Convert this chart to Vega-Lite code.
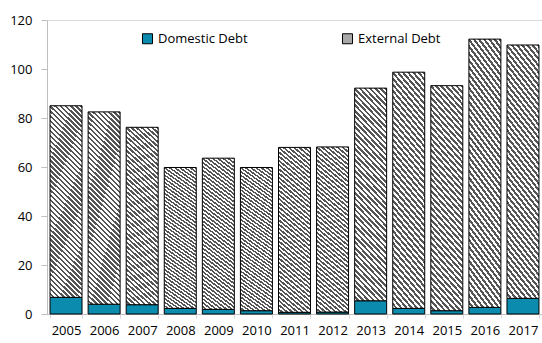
{
  "$schema": "https://vega.github.io/schema/vega-lite/v6.json",
  "autosize": {"type": "none"},
  "padding": {"left": 47, "top": 20, "right": 0, "bottom": 29},
  "width": 495,
  "height": 294,
  "background": "white",
  "title": {
    "text": "(In percent of GDP)",
    "anchor": "start",
    "dx": -29,
    "dy": -15,
    "baseline": "alphabetic",
    "font": "Open Sans",
    "fontSize": 13,
    "fontWeight": "normal",
    "color": "#2AA3DC"
  },
  "config": {
    "view": {"stroke": "#d9d9d9", "strokeWidth": 1},
    "font": "Open Sans"
  },
  "data": {
    "values": [
      {"year": "2005", "series": "Domestic Debt", "value": 6.8},
      {"year": "2005", "series": "External Debt", "value": 78.2},
      {"year": "2006", "series": "Domestic Debt", "value": 4.0},
      {"year": "2006", "series": "External Debt", "value": 78.5},
      {"year": "2007", "series": "Domestic Debt", "value": 3.8},
      {"year": "2007", "series": "External Debt", "value": 72.4},
      {"year": "2008", "series": "Domestic Debt", "value": 2.3},
      {"year": "2008", "series": "External Debt", "value": 57.5},
      {"year": "2009", "series": "Domestic Debt", "value": 1.9},
      {"year": "2009", "series": "External Debt", "value": 61.7},
      {"year": "2010", "series": "Domestic Debt", "value": 1.35},
      {"year": "2010", "series": "External Debt", "value": 58.45},
      {"year": "2011", "series": "Domestic Debt", "value": 0.7},
      {"year": "2011", "series": "External Debt", "value": 67.3},
      {"year": "2012", "series": "Domestic Debt", "value": 0.8},
      {"year": "2012", "series": "External Debt", "value": 67.4},
      {"year": "2013", "series": "Domestic Debt", "value": 5.4},
      {"year": "2013", "series": "External Debt", "value": 86.8},
      {"year": "2014", "series": "Domestic Debt", "value": 2.3},
      {"year": "2014", "series": "External Debt", "value": 96.4},
      {"year": "2015", "series": "Domestic Debt", "value": 1.35},
      {"year": "2015", "series": "External Debt", "value": 91.85},
      {"year": "2016", "series": "Domestic Debt", "value": 2.7},
      {"year": "2016", "series": "External Debt", "value": 109.5},
      {"year": "2017", "series": "Domestic Debt", "value": 6.4},
      {"year": "2017", "series": "External Debt", "value": 103.4}
    ]
  },
  "mark": {"type": "bar", "stroke": "#000000", "strokeWidth": 1, "fillOpacity": 1},
  "encoding": {
    "x": {
      "field": "year",
      "type": "ordinal",
      "title": null,
      "scale": {"paddingInner": 0.16, "paddingOuter": 0.08},
      "axis": {
        "labelAngle": 0,
        "labelFontSize": 13,
        "labelColor": "#000000",
        "labelPadding": 6,
        "tickBand": "extent",
        "tickSize": 4,
        "tickColor": "#d9d9d9",
        "domainColor": "#bfbfbf",
        "labelFont": "Open Sans"
      }
    },
    "y": {
      "field": "value",
      "type": "quantitative",
      "stack": "zero",
      "title": null,
      "scale": {"domain": [0, 120], "nice": false},
      "axis": {
        "values": [0, 20, 40, 60, 80, 100, 120],
        "grid": false,
        "tickSize": 6,
        "tickColor": "#bfbfbf",
        "domainColor": "#bfbfbf",
        "labelFontSize": 13,
        "labelColor": "#000000",
        "labelPadding": 9,
        "labelFont": "Open Sans"
      }
    },
    "order": {"field": "series", "sort": "ascending"},
    "fill": {
      "condition": {
        "test": "datum.series === 'External Debt'",
        "value": {
          "gradient": "linear",
          "x1": 1, "y1": 0, "x2": 0.819, "y2": 1.131,
          "stops": [
            {"offset": 0.0000, "color": "#555555"}, {"offset": 0.0111, "color": "#555555"}, {"offset": 0.0111, "color": "#ffffff"}, {"offset": 0.0222, "color": "#ffffff"},
            {"offset": 0.0222, "color": "#555555"}, {"offset": 0.0333, "color": "#555555"}, {"offset": 0.0333, "color": "#ffffff"}, {"offset": 0.0444, "color": "#ffffff"},
            {"offset": 0.0444, "color": "#555555"}, {"offset": 0.0556, "color": "#555555"}, {"offset": 0.0556, "color": "#ffffff"}, {"offset": 0.0667, "color": "#ffffff"},
            {"offset": 0.0667, "color": "#555555"}, {"offset": 0.0778, "color": "#555555"}, {"offset": 0.0778, "color": "#ffffff"}, {"offset": 0.0889, "color": "#ffffff"},
            {"offset": 0.0889, "color": "#555555"}, {"offset": 0.1000, "color": "#555555"}, {"offset": 0.1000, "color": "#ffffff"}, {"offset": 0.1111, "color": "#ffffff"},
            {"offset": 0.1111, "color": "#555555"}, {"offset": 0.1222, "color": "#555555"}, {"offset": 0.1222, "color": "#ffffff"}, {"offset": 0.1333, "color": "#ffffff"},
            {"offset": 0.1333, "color": "#555555"}, {"offset": 0.1444, "color": "#555555"}, {"offset": 0.1444, "color": "#ffffff"}, {"offset": 0.1556, "color": "#ffffff"},
            {"offset": 0.1556, "color": "#555555"}, {"offset": 0.1667, "color": "#555555"}, {"offset": 0.1667, "color": "#ffffff"}, {"offset": 0.1778, "color": "#ffffff"},
            {"offset": 0.1778, "color": "#555555"}, {"offset": 0.1889, "color": "#555555"}, {"offset": 0.1889, "color": "#ffffff"}, {"offset": 0.2000, "color": "#ffffff"},
            {"offset": 0.2000, "color": "#555555"}, {"offset": 0.2111, "color": "#555555"}, {"offset": 0.2111, "color": "#ffffff"}, {"offset": 0.2222, "color": "#ffffff"},
            {"offset": 0.2222, "color": "#555555"}, {"offset": 0.2333, "color": "#555555"}, {"offset": 0.2333, "color": "#ffffff"}, {"offset": 0.2444, "color": "#ffffff"},
            {"offset": 0.2444, "color": "#555555"}, {"offset": 0.2556, "color": "#555555"}, {"offset": 0.2556, "color": "#ffffff"}, {"offset": 0.2667, "color": "#ffffff"},
            {"offset": 0.2667, "color": "#555555"}, {"offset": 0.2778, "color": "#555555"}, {"offset": 0.2778, "color": "#ffffff"}, {"offset": 0.2889, "color": "#ffffff"},
            {"offset": 0.2889, "color": "#555555"}, {"offset": 0.3000, "color": "#555555"}, {"offset": 0.3000, "color": "#ffffff"}, {"offset": 0.3111, "color": "#ffffff"},
            {"offset": 0.3111, "color": "#555555"}, {"offset": 0.3222, "color": "#555555"}, {"offset": 0.3222, "color": "#ffffff"}, {"offset": 0.3333, "color": "#ffffff"},
            {"offset": 0.3333, "color": "#555555"}, {"offset": 0.3444, "color": "#555555"}, {"offset": 0.3444, "color": "#ffffff"}, {"offset": 0.3556, "color": "#ffffff"},
            {"offset": 0.3556, "color": "#555555"}, {"offset": 0.3667, "color": "#555555"}, {"offset": 0.3667, "color": "#ffffff"}, {"offset": 0.3778, "color": "#ffffff"},
            {"offset": 0.3778, "color": "#555555"}, {"offset": 0.3889, "color": "#555555"}, {"offset": 0.3889, "color": "#ffffff"}, {"offset": 0.4000, "color": "#ffffff"},
            {"offset": 0.4000, "color": "#555555"}, {"offset": 0.4111, "color": "#555555"}, {"offset": 0.4111, "color": "#ffffff"}, {"offset": 0.4222, "color": "#ffffff"},
            {"offset": 0.4222, "color": "#555555"}, {"offset": 0.4333, "color": "#555555"}, {"offset": 0.4333, "color": "#ffffff"}, {"offset": 0.4444, "color": "#ffffff"},
            {"offset": 0.4444, "color": "#555555"}, {"offset": 0.4556, "color": "#555555"}, {"offset": 0.4556, "color": "#ffffff"}, {"offset": 0.4667, "color": "#ffffff"},
            {"offset": 0.4667, "color": "#555555"}, {"offset": 0.4778, "color": "#555555"}, {"offset": 0.4778, "color": "#ffffff"}, {"offset": 0.4889, "color": "#ffffff"},
            {"offset": 0.4889, "color": "#555555"}, {"offset": 0.5000, "color": "#555555"}, {"offset": 0.5000, "color": "#ffffff"}, {"offset": 0.5111, "color": "#ffffff"},
            {"offset": 0.5111, "color": "#555555"}, {"offset": 0.5222, "color": "#555555"}, {"offset": 0.5222, "color": "#ffffff"}, {"offset": 0.5333, "color": "#ffffff"},
            {"offset": 0.5333, "color": "#555555"}, {"offset": 0.5444, "color": "#555555"}, {"offset": 0.5444, "color": "#ffffff"}, {"offset": 0.5556, "color": "#ffffff"},
            {"offset": 0.5556, "color": "#555555"}, {"offset": 0.5667, "color": "#555555"}, {"offset": 0.5667, "color": "#ffffff"}, {"offset": 0.5778, "color": "#ffffff"},
            {"offset": 0.5778, "color": "#555555"}, {"offset": 0.5889, "color": "#555555"}, {"offset": 0.5889, "color": "#ffffff"}, {"offset": 0.6000, "color": "#ffffff"},
            {"offset": 0.6000, "color": "#555555"}, {"offset": 0.6111, "color": "#555555"}, {"offset": 0.6111, "color": "#ffffff"}, {"offset": 0.6222, "color": "#ffffff"},
            {"offset": 0.6222, "color": "#555555"}, {"offset": 0.6333, "color": "#555555"}, {"offset": 0.6333, "color": "#ffffff"}, {"offset": 0.6444, "color": "#ffffff"},
            {"offset": 0.6444, "color": "#555555"}, {"offset": 0.6556, "color": "#555555"}, {"offset": 0.6556, "color": "#ffffff"}, {"offset": 0.6667, "color": "#ffffff"},
            {"offset": 0.6667, "color": "#555555"}, {"offset": 0.6778, "color": "#555555"}, {"offset": 0.6778, "color": "#ffffff"}, {"offset": 0.6889, "color": "#ffffff"},
            {"offset": 0.6889, "color": "#555555"}, {"offset": 0.7000, "color": "#555555"}, {"offset": 0.7000, "color": "#ffffff"}, {"offset": 0.7111, "color": "#ffffff"},
            {"offset": 0.7111, "color": "#555555"}, {"offset": 0.7222, "color": "#555555"}, {"offset": 0.7222, "color": "#ffffff"}, {"offset": 0.7333, "color": "#ffffff"},
            {"offset": 0.7333, "color": "#555555"}, {"offset": 0.7444, "color": "#555555"}, {"offset": 0.7444, "color": "#ffffff"}, {"offset": 0.7556, "color": "#ffffff"},
            {"offset": 0.7556, "color": "#555555"}, {"offset": 0.7667, "color": "#555555"}, {"offset": 0.7667, "color": "#ffffff"}, {"offset": 0.7778, "color": "#ffffff"},
            {"offset": 0.7778, "color": "#555555"}, {"offset": 0.7889, "color": "#555555"}, {"offset": 0.7889, "color": "#ffffff"}, {"offset": 0.8000, "color": "#ffffff"},
            {"offset": 0.8000, "color": "#555555"}, {"offset": 0.8111, "color": "#555555"}, {"offset": 0.8111, "color": "#ffffff"}, {"offset": 0.8222, "color": "#ffffff"},
            {"offset": 0.8222, "color": "#555555"}, {"offset": 0.8333, "color": "#555555"}, {"offset": 0.8333, "color": "#ffffff"}, {"offset": 0.8444, "color": "#ffffff"},
            {"offset": 0.8444, "color": "#555555"}, {"offset": 0.8556, "color": "#555555"}, {"offset": 0.8556, "color": "#ffffff"}, {"offset": 0.8667, "color": "#ffffff"},
            {"offset": 0.8667, "color": "#555555"}, {"offset": 0.8778, "color": "#555555"}, {"offset": 0.8778, "color": "#ffffff"}, {"offset": 0.8889, "color": "#ffffff"},
            {"offset": 0.8889, "color": "#555555"}, {"offset": 0.9000, "color": "#555555"}, {"offset": 0.9000, "color": "#ffffff"}, {"offset": 0.9111, "color": "#ffffff"},
            {"offset": 0.9111, "color": "#555555"}, {"offset": 0.9222, "color": "#555555"}, {"offset": 0.9222, "color": "#ffffff"}, {"offset": 0.9333, "color": "#ffffff"},
            {"offset": 0.9333, "color": "#555555"}, {"offset": 0.9444, "color": "#555555"}, {"offset": 0.9444, "color": "#ffffff"}, {"offset": 0.9556, "color": "#ffffff"},
            {"offset": 0.9556, "color": "#555555"}, {"offset": 0.9667, "color": "#555555"}, {"offset": 0.9667, "color": "#ffffff"}, {"offset": 0.9778, "color": "#ffffff"},
            {"offset": 0.9778, "color": "#555555"}, {"offset": 0.9889, "color": "#555555"}, {"offset": 0.9889, "color": "#ffffff"}, {"offset": 1.0000, "color": "#ffffff"}
          ]
        }
      },
      "field": "series",
      "type": "nominal",
      "scale": {
        "domain": ["Domestic Debt", "External Debt"],
        "range": ["#0B8CAE", "#a8a8a8"]
      },
      "legend": {
        "title": null,
        "orient": "none",
        "legendX": 94,
        "legendY": 12,
        "direction": "horizontal",
        "columns": 2,
        "columnPadding": 92,
        "symbolType": "square",
        "symbolSize": 100,
        "symbolStrokeColor": "#000000",
        "symbolStrokeWidth": 1,
        "symbolOpacity": 1,
        "labelFontSize": 13,
        "labelFont": "Open Sans",
        "labelColor": "#000000",
        "labelOffset": 4,
        "encode": {
          "symbols": {
            "update": {
              "stroke": {"value": "#000000"},
              "strokeWidth": {"value": 1},
              "fill": {"value": {"expr": "datum.value === 'External Debt' ? {gradient: 'linear', x1: 0, y1: 1, x2: 1, y2: 0, stops: [{offset: 0, color: '#ffffff'}, {offset: 0.1, color: '#ffffff'}, {offset: 0.1, color: '#555555'}, {offset: 0.25, color: '#555555'}, {offset: 0.25, color: '#ffffff'}, {offset: 0.4, color: '#ffffff'}, {offset: 0.4, color: '#555555'}, {offset: 0.6, color: '#555555'}, {offset: 0.6, color: '#ffffff'}, {offset: 0.75, color: '#ffffff'}, {offset: 0.75, color: '#555555'}, {offset: 0.9, color: '#555555'}, {offset: 0.9, color: '#ffffff'}, {offset: 1, color: '#ffffff'}]} : '#0B8CAE'"}}
            }
          }
        }
      }
    }
  }
}
